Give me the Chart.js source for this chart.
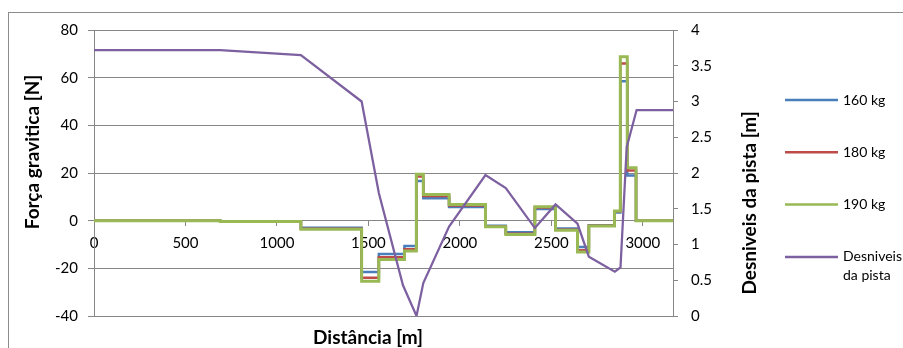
<!DOCTYPE html>
<html>
<head>
<meta charset="utf-8">
<script src="https://cdn.jsdelivr.net/npm/chart.js@4.4.1/dist/chart.umd.min.js"></script>
<style>
  html, body { margin: 0; background: #fff; }
  #wrap { width: 903px; height: 348px; position: relative; }
</style>
</head>
<body>
<div id="wrap"><canvas id="chart"></canvas></div>
<script>
  // step boundaries of the force series [m]
  const stepX = [0, 690, 1131, 1463, 1557, 1697, 1762, 1800, 1941, 2140, 2251, 2410, 2523, 2643, 2705, 2845, 2877, 2915, 2963, 3165];
  // gravitational force [N] per mass, value held from stepX[i] to stepX[i+1]
  const force160 = [0, -0.3, -3.0, -21.5, -14.0, -10.6, 16.6, 9.4, 5.7, -2.1, -4.9, 4.9, -3.3, -11.0, -1.9, 3.4, 58.5, 19.0, 0, 0];
  const force180 = [0, -0.3, -3.4, -24.0, -15.4, -12.0, 18.5, 10.4, 6.4, -2.4, -5.5, 5.5, -3.8, -12.4, -2.1, 3.9, 65.9, 21.1, 0, 0];
  const force190 = [0, -0.3, -3.6, -25.4, -16.3, -12.7, 19.5, 11.0, 6.8, -2.6, -5.8, 5.8, -4.0, -13.1, -2.2, 4.1, 68.8, 22.2, 0, 0];

  // track profile [m]
  const pistaX = [0, 690, 1131, 1463, 1557, 1689, 1763, 1800, 1941, 2140, 2251, 2410, 2523, 2643, 2705, 2847, 2878, 2912, 2966, 3165];
  const pistaY = [3.72, 3.72, 3.65, 3.0, 1.72, 0.43, 0, 0.46, 1.25, 1.97, 1.79, 1.23, 1.56, 1.29, 0.83, 0.62, 0.68, 2.36, 2.88, 2.88];

  const xTicks = [0, 500, 1000, 1500, 2000, 2500, 3000];
  const leftTicks = [-40, -20, 0, 20, 40, 60, 80];
  const rightTicks = [0, 0.5, 1, 1.5, 2, 2.5, 3, 3.5, 4];

  const seriesNames = ['160 kg', '180 kg', '190 kg', 'Desniveis da pista'];
  const seriesColors = ['#4a7ebb', '#be4b48', '#98b954', '#7d60a0'];

  const FONT = 'Lato';
  const GRID = '#868686';
  Chart.defaults.font.family = FONT;
  Chart.defaults.color = '#000';

  const pts = (xs, ys) => xs.map((x, i) => ({ x: x, y: ys[i] }));
  const fixTicks = list => scale => { scale.ticks = list.map(v => ({ value: v })); };

  const extras = {
    id: 'extras',
    beforeDraw(chart) {
      const ctx = chart.ctx;
      ctx.save();
      ctx.fillStyle = '#fff';
      ctx.fillRect(0, 0, chart.width, chart.height);
      ctx.strokeStyle = '#8c8c8c';
      ctx.lineWidth = 1;
      ctx.strokeRect(8.5, 12.5, chart.width, chart.height);
      ctx.restore();
    },
    afterDraw(chart) {
      const ctx = chart.ctx;
      ctx.save();
      ctx.fillStyle = '#000';
      ctx.textAlign = 'center';
      ctx.textBaseline = 'middle';
      ctx.font = 'bold 19px ' + FONT;
      ctx.fillText('Distância [m]', 368, 338);

      ctx.save();
      ctx.translate(33, 152);
      ctx.rotate(-Math.PI / 2);
      ctx.fillText('Força gravitica [N]', 0, 0);
      ctx.restore();

      ctx.save();
      ctx.translate(750, 203);
      ctx.rotate(-Math.PI / 2);
      ctx.fillText('Desniveis da pista [m]', 0, 0);
      ctx.restore();

      // legend
      ctx.font = '14px ' + FONT;
      ctx.textAlign = 'left';
      seriesNames.forEach((name, i) => {
        const y = 100 + i * 52.3;
        ctx.strokeStyle = seriesColors[i];
        ctx.lineWidth = 2.5;
        ctx.beginPath();
        ctx.moveTo(785, y);
        ctx.lineTo(838, y);
        ctx.stroke();
        if (i === 3) {
          ctx.fillText('Desniveis', 843, y);
          ctx.fillText('da pista', 843, y + 19);
        } else {
          ctx.fillText(name, 843, y);
        }
      });
      ctx.restore();
    }
  };

  new Chart(document.getElementById('chart'), {
    type: 'line',
    data: {
      datasets: [
        { label: seriesNames[3], data: pts(pistaX, pistaY), yAxisID: 'y1', borderColor: seriesColors[3], borderWidth: 2.25, order: 0 },
        { label: seriesNames[2], data: pts(stepX, force190), yAxisID: 'y', borderColor: seriesColors[2], borderWidth: 3, stepped: true, order: 1 },
        { label: seriesNames[1], data: pts(stepX, force180), yAxisID: 'y', borderColor: seriesColors[1], borderWidth: 2.5, stepped: true, order: 2 },
        { label: seriesNames[0], data: pts(stepX, force160), yAxisID: 'y', borderColor: seriesColors[0], borderWidth: 2.5, stepped: true, order: 3 }
      ]
    },
    options: {
      responsive: true,
      maintainAspectRatio: false,
      animation: false,
      devicePixelRatio: 1,
      elements: { point: { radius: 0 }, line: { tension: 0 } },
      layout: { padding: { top: 30, bottom: 32, left: 0, right: 0 } },
      plugins: { legend: { display: false }, tooltip: { enabled: false } },
      scales: {
        x: {
          type: 'linear',
          min: 0,
          max: 3165,
          position: { y: 0 },
          afterBuildTicks: fixTicks(xTicks),
          grid: { drawOnChartArea: false, drawTicks: true, tickLength: 5, color: GRID },
          border: { display: true, color: GRID },
          ticks: { font: { size: 15 }, padding: 8, maxRotation: 0, autoSkip: false, callback: v => String(v) }
        },
        y: {
          position: 'left',
          min: -40,
          max: 80,
          afterBuildTicks: fixTicks(leftTicks),
          afterFit: s => { s.width = 94; },
          grid: { color: GRID, tickLength: 6 },
          border: { display: true, color: GRID },
          ticks: { font: { size: 15 }, padding: 10, callback: v => String(v) }
        },
        y1: {
          position: 'right',
          min: 0,
          max: 4,
          afterBuildTicks: fixTicks(rightTicks),
          afterFit: s => { s.width = 230; },
          grid: { drawOnChartArea: false, color: GRID, tickLength: 5 },
          border: { display: true, color: GRID },
          ticks: { font: { size: 15 }, padding: 13, callback: v => String(v) }
        }
      }
    },
    plugins: [extras]
  });
</script>
</body>
</html>
